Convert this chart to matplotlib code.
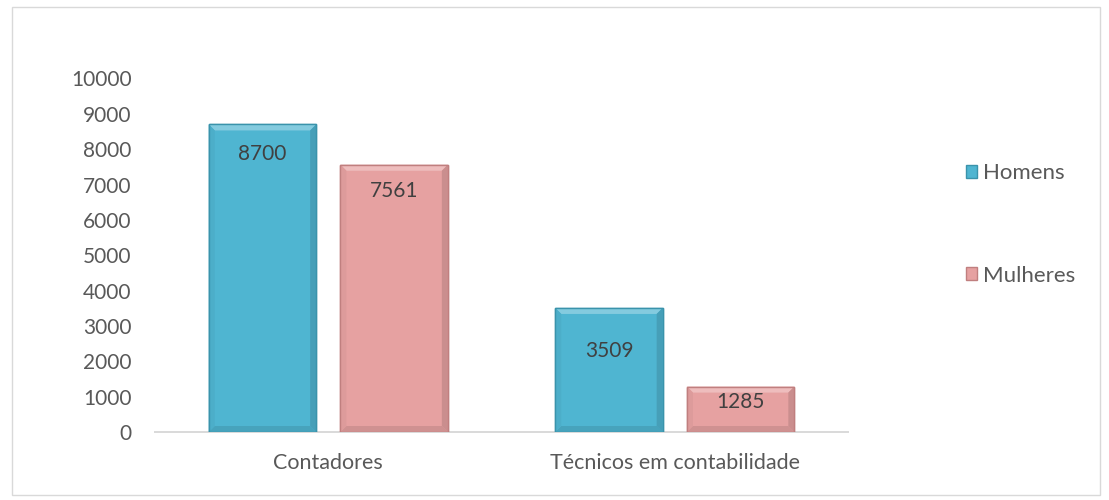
import matplotlib
matplotlib.use('Agg')
import matplotlib.pyplot as plt
from matplotlib.patches import Rectangle, Patch, Polygon
from matplotlib.colors import to_rgb
import numpy as np

# data
categories = ['Contadores', 'Técnicos em contabilidade']
series_names = ['Homens', 'Mulheres']
homens = [8700, 3509]
mulheres = [7561, 1285]
y_ticks = [0, 1000, 2000, 3000, 4000, 5000, 6000, 7000, 8000, 9000, 10000]

# styles
colors = ['#4fb5d1', '#e6a1a1']
edges = ['#3a93ab', '#c07f7f']
label_offsets = [[-21, -31], [-19, -11]]  # points below bar top, per series/category
text_color = '#595959'


def mix(c, other, t):
    c = np.array(to_rgb(c))
    return tuple(c * (1 - t) + np.array(other) * t)


plt.rcParams['font.family'] = ['Lato', 'DejaVu Sans']

fig = plt.figure(figsize=(11.09, 5.0), dpi=100)
ax = fig.add_axes([0.1398, 0.136, 0.6249, 0.707])
ax.set_xlim(-0.5, 1.5)
ax.set_ylim(0, 10000)

x = np.arange(len(categories))
width = 0.31
offset = 0.19

series = [homens, mulheres]
all_bars = []
for i, vals in enumerate(series):
    bars = ax.bar(x + (i * 2 - 1) * offset, vals, width, color=colors[i],
                  edgecolor=edges[i], linewidth=1.0, label=series_names[i], zorder=3)
    all_bars.append(bars)
    for j, b in enumerate(bars):
        ax.annotate(str(vals[j]), (b.get_x() + b.get_width() / 2, b.get_height()),
                    xytext=(0, label_offsets[i][j]), textcoords='offset points',
                    ha='center', va='center', fontsize=15, color='#404040', zorder=5)

# bevel look: light top, darker sides and bottom, built from each bar's box
bev = 6  # pixels
inv = ax.transData.inverted()
for i, bars in enumerate(all_bars):
    for b in bars:
        x0, y0 = ax.transData.transform((b.get_x(), 0))
        x1, y1 = ax.transData.transform((b.get_x() + b.get_width(), b.get_height()))
        outer = [(x0, y0), (x1, y0), (x1, y1), (x0, y1)]
        inner = [(x0 + bev, y0 + bev), (x1 - bev, y0 + bev), (x1 - bev, y1 - bev), (x0 + bev, y1 - bev)]
        sides = [
            ([outer[3], outer[2], inner[2], inner[3]], mix(colors[i], (1, 1, 1), 0.3)),  # top
            ([outer[0], outer[1], inner[1], inner[0]], mix(colors[i], (0, 0, 0), 0.10)),  # bottom
            ([outer[0], outer[3], inner[3], inner[0]], mix(colors[i], (0, 0, 0), 0.04)),  # left
            ([outer[1], outer[2], inner[2], inner[1]], mix(colors[i], (0, 0, 0), 0.12)),  # right
        ]
        for pts, col in sides:
            ax.add_patch(Polygon(inv.transform(pts), closed=True, facecolor=col,
                                 edgecolor='none', zorder=3.5))
        ax.add_patch(Rectangle((b.get_x(), 0), b.get_width(), b.get_height(), fill=False,
                               edgecolor=edges[i], linewidth=1.0, zorder=3.6))

ax.set_yticks(y_ticks)
ax.set_yticklabels([str(t) for t in y_ticks])
ax.set_xticks(x)
ax.set_xticklabels(categories)
ax.tick_params(axis='y', length=0, pad=17, labelsize=15, labelcolor=text_color)
ax.tick_params(axis='x', length=0, pad=15, labelsize=15.5, labelcolor=text_color)

for s in ['top', 'right', 'left']:
    ax.spines[s].set_visible(False)
ax.spines['bottom'].set_color('#d9d9d9')
ax.spines['bottom'].set_linewidth(1.4)
ax.spines['bottom'].set_zorder(2)

handles = [Patch(facecolor=colors[i], edgecolor=edges[i], linewidth=1) for i in range(2)]
fig.legend(handles, series_names, loc='center left', bbox_to_anchor=(0.861, 0.551),
           frameon=False, fontsize=16, labelcolor=text_color, labelspacing=3.7,
           handlelength=0.5, handleheight=0.5, handletextpad=0.25, borderpad=0)

# outer chart border
fig.patches.append(Rectangle((12 / 1109, 5 / 500), 1088 / 1109, 488 / 500,
                             transform=fig.transFigure, fill=False,
                             edgecolor='#d9d9d9', linewidth=1))

fig.savefig('out.png', dpi=100)
